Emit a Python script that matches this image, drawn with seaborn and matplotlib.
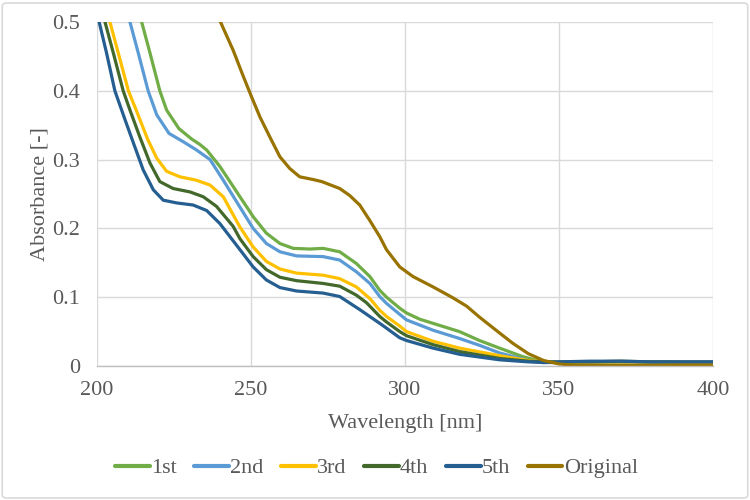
import numpy as np
import pandas as pd
import matplotlib
matplotlib.use("Agg")
import matplotlib.pyplot as plt
import seaborn as sns
from matplotlib.patches import FancyBboxPatch

# ---------------- data ----------------
series_names = ["1st", "2nd", "3rd", "4th", "5th", "Original"]

wl_1st = [213.5, 214.5, 217.2, 220.4, 222.6, 226.6, 230.7, 233.4, 235.6, 239.9, 244.2,
          246.4, 249.1, 250.7, 255, 259.4, 263.7, 269.1, 273.4, 278.8, 284.2, 288.6,
          291.8, 294, 298.3, 300.5, 304.8, 309.1, 317.7, 324.2, 330.7, 338, 343.7,
          350, 360, 370, 380, 390, 400]
ab_1st = [0.52, 0.50, 0.455, 0.400, 0.372, 0.345, 0.330, 0.322, 0.314, 0.290, 0.261,
          0.246, 0.228, 0.217, 0.193, 0.178, 0.171, 0.170, 0.171, 0.166, 0.149, 0.130,
          0.110, 0.100, 0.084, 0.077, 0.068, 0.062, 0.050, 0.037, 0.026, 0.014, 0.007,
          0.005, 0.006, 0.006, 0.006, 0.005, 0.005]

wl_2nd = [209.6, 210.7, 213.4, 216.6, 219.4, 223.4, 228, 232.3, 236.7, 241, 246.4,
          250.7, 255, 259.4, 264.8, 273.4, 278.8, 284.2, 288.6, 291.8, 294, 298.3,
          300.5, 309.1, 317.7, 324.2, 330.7, 340, 345, 350, 360, 370, 380, 390, 400]
ab_2nd = [0.52, 0.50, 0.455, 0.400, 0.365, 0.338, 0.326, 0.314, 0.300, 0.270, 0.231,
          0.200, 0.178, 0.166, 0.160, 0.159, 0.154, 0.137, 0.120, 0.101, 0.091, 0.075,
          0.067, 0.052, 0.040, 0.030, 0.019, 0.008, 0.005, 0.005, 0.006, 0.006, 0.006,
          0.005, 0.005]

wl_3rd = [202.9, 204.2, 206.9, 210.2, 212.9, 216.4, 219.4, 222.6, 226.9, 232.3, 236.7,
          241, 246.4, 250.7, 255, 259.4, 264.8, 273.4, 278.8, 284.2, 288.6, 291.8, 294,
          298.3, 300.5, 309.1, 317.7, 330.7, 340, 345, 350, 360, 370, 380, 390, 400]
ab_3rd = [0.52, 0.50, 0.455, 0.400, 0.370, 0.330, 0.302, 0.283, 0.275, 0.270, 0.263,
          0.246, 0.202, 0.173, 0.152, 0.141, 0.135, 0.132, 0.127, 0.115, 0.098, 0.081,
          0.072, 0.058, 0.050, 0.036, 0.026, 0.015, 0.008, 0.006, 0.005, 0.006, 0.006,
          0.006, 0.005, 0.005]

wl_4th = [201.1, 202.6, 205.3, 208.5, 210.7, 213.9, 217.2, 220.4, 224.7, 230.2, 234.5,
          238.8, 244.2, 246.4, 250.7, 255, 259.4, 264.8, 273.4, 278.8, 284.2, 287.5,
          291.8, 294, 298.3, 300.5, 309.1, 317.7, 330.7, 340, 345, 350, 360, 370, 380,
          390, 400]
ab_4th = [0.52, 0.50, 0.455, 0.400, 0.372, 0.333, 0.295, 0.268, 0.258, 0.253, 0.246,
          0.232, 0.203, 0.185, 0.159, 0.140, 0.129, 0.124, 0.120, 0.116, 0.103, 0.092,
          0.072, 0.064, 0.050, 0.044, 0.031, 0.021, 0.011, 0.007, 0.006, 0.006, 0.006,
          0.007, 0.006, 0.006, 0.006]

wl_5th = [200, 200.7, 203.1, 205.8, 209.1, 212, 215, 218.3, 221.5, 225.9, 231.2, 235.6,
          239.9, 245.4, 250.7, 255, 259.4, 264.8, 273.4, 278.8, 285.3, 291.8, 294, 298.3,
          300.5, 309.1, 317.7, 330.7, 340, 345, 350, 360, 370, 380, 390, 400]
ab_5th = [0.51, 0.50, 0.455, 0.400, 0.358, 0.322, 0.285, 0.256, 0.241, 0.237, 0.234,
          0.226, 0.207, 0.175, 0.144, 0.125, 0.114, 0.109, 0.106, 0.101, 0.082, 0.062,
          0.055, 0.041, 0.037, 0.026, 0.017, 0.009, 0.006, 0.005, 0.006, 0.007, 0.007,
          0.006, 0.006, 0.006]

wl_orig = [238.2, 240.1, 244.2, 247.5, 250.2, 252.9, 256.1, 259.4, 262.6, 265.8, 270.2,
           273, 278.8, 282, 285.3, 288.5, 291.8, 294, 298.3, 302.6, 309.1, 315.6, 320,
           324.2, 330.7, 335, 340, 345, 350, 355, 360, 370, 380, 390, 400]
ab_orig = [0.52, 0.50, 0.459, 0.421, 0.391, 0.362, 0.333, 0.304, 0.287, 0.275, 0.271,
           0.268, 0.258, 0.248, 0.234, 0.212, 0.188, 0.169, 0.144, 0.130, 0.115, 0.099,
           0.087, 0.071, 0.048, 0.033, 0.018, 0.008, 0.003, 0.001, 0.001, 0.001, 0.001,
           0.001, 0.001]

colors = ["#70AD47", "#5B9BD5", "#FFC000", "#43682B", "#255E91", "#997300"]

x_ticks = [200, 250, 300, 350, 400]
y_ticks = [0, 0.1, 0.2, 0.3, 0.4, 0.5]
y_tick_labels = ["0", "0.1", "0.2", "0.3", "0.4", "0.5"]

# ---------------- build long-form table ----------------
all_wl = [wl_1st, wl_2nd, wl_3rd, wl_4th, wl_5th, wl_orig]
all_ab = [ab_1st, ab_2nd, ab_3rd, ab_4th, ab_5th, ab_orig]
frames = []
for name, w, a in zip(series_names, all_wl, all_ab):
    frames.append(pd.DataFrame({"Wavelength": w, "Absorbance": a, "Series": name}))
df = pd.concat(frames, ignore_index=True)

# ---------------- plot ----------------
sns.set_theme(style="white")
plt.rcParams["font.family"] = ["Liberation Serif", "DejaVu Serif"]

fig = plt.figure(figsize=(7.5, 5.0), dpi=100)
ax = fig.add_axes([97 / 750, 1 - 366 / 500, (713 - 97) / 750, (366 - 22) / 500])

sns.lineplot(data=df, x="Wavelength", y="Absorbance", hue="Series",
             hue_order=series_names, palette=colors, estimator=None,
             sort=True, linewidth=2.3, ax=ax, legend=True,
             solid_joinstyle="round", solid_capstyle="round")

ax.set_xlim(200, 400)
ax.set_ylim(0, 0.5)
ax.set_xticks(x_ticks)
ax.set_yticks(y_ticks)
ax.set_yticklabels(y_tick_labels)

grid_c = "#D9D9D9"
ax.grid(True, color=grid_c, linewidth=1.0)
ax.set_axisbelow(True)
for s in ["top", "right", "left"]:
    ax.spines[s].set_visible(False)
ax.spines["bottom"].set_color("#BFBFBF")
ax.spines["bottom"].set_linewidth(1.0)

txt_c = "#595959"
fs = 16
ax.tick_params(axis="x", length=0, labelsize=fs, colors=txt_c, pad=11)
ax.tick_params(axis="y", length=0, labelsize=fs, colors=txt_c, pad=12)
ax.set_xlabel("Wavelength [nm]", fontsize=fs, color=txt_c, labelpad=10)
ax.set_ylabel("Absorbance [-]", fontsize=fs, color=txt_c, labelpad=2)

handles, labels = ax.get_legend_handles_labels()
ax.get_legend().remove()
for h in handles:
    h.set_linewidth(3.0)
fig.legend(handles, labels, loc="center", bbox_to_anchor=(0.502, 1 - 468 / 500),
           ncol=6, frameon=False, fontsize=fs, handlelength=1.55, handletextpad=0.06,
           columnspacing=0.8, labelcolor=txt_c)

# outer chart border
border = FancyBboxPatch((0.003, 0.004), 0.994, 0.99, boxstyle="round,pad=0,rounding_size=0.006",
                        transform=fig.transFigure, facecolor="none", edgecolor="#D9D9D9",
                        linewidth=1.2)
fig.patches.append(border)

fig.savefig("out.png", dpi=100, facecolor="white")
